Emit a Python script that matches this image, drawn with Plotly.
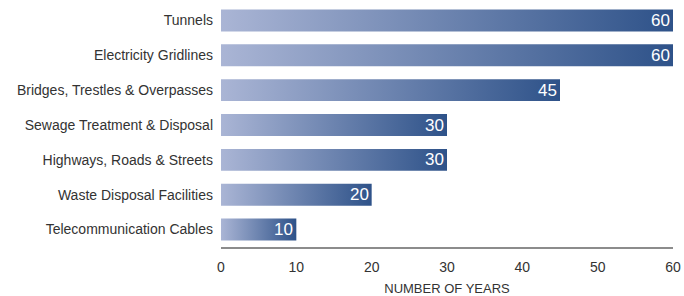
import plotly.graph_objects as go

categories = ["Telecommunication Cables", "Waste Disposal Facilities", "Highways, Roads & Streets",
              "Sewage Treatment & Disposal", "Bridges, Trestles & Overpasses",
              "Electricity Gridlines", "Tunnels"]
years = [10, 20, 30, 30, 45, 60, 60]
x_ticks = [0, 10, 20, 30, 40, 50, 60]

half = 0.315
fig = go.Figure()
for i, (cat, v) in enumerate(zip(categories, years)):
    fig.add_trace(go.Scatter(
        x=[0, v, v, 0, 0], y=[i - half, i - half, i + half, i + half, i - half],
        mode="lines", line=dict(width=0), fill="toself",
        fillgradient=dict(type="horizontal",
                          colorscale=[[0, "#AAB5D5"], [1, "#2E5289"]]),
        hoverinfo="skip", showlegend=False, name=cat))
    fig.add_annotation(x=v, y=i, text=str(v), showarrow=False, xanchor="right",
                       xshift=-1, font=dict(family="Liberation Sans, Arial", size=17, color="white"))

fig.update_layout(
    width=684, height=296,
    margin=dict(l=221, r=11, t=2.5, b=48.5),
    plot_bgcolor="white", paper_bgcolor="white",
    font=dict(family="Liberation Sans, Arial", size=14, color="#333333"),
    xaxis=dict(range=[0, 60], tickvals=x_ticks, showgrid=False, zeroline=False,
               showline=True, linecolor="#8c8c8c", linewidth=2, automargin=False,
               ticks="", ticklabelstandoff=6, tickfont=dict(size=14),
               title=dict(text="NUMBER OF YEARS", font=dict(size=13), standoff=12)),
    yaxis=dict(range=[-0.5, 6.5], tickvals=list(range(len(categories))), ticktext=categories,
               showgrid=False, zeroline=False, showline=False, ticks="", automargin=False,
               ticklabelstandoff=7, tickfont=dict(size=14)),
)
fig.write_html("out.html", config={"displayModeBar": False},
               post_script="document.body.style.margin='0';")
